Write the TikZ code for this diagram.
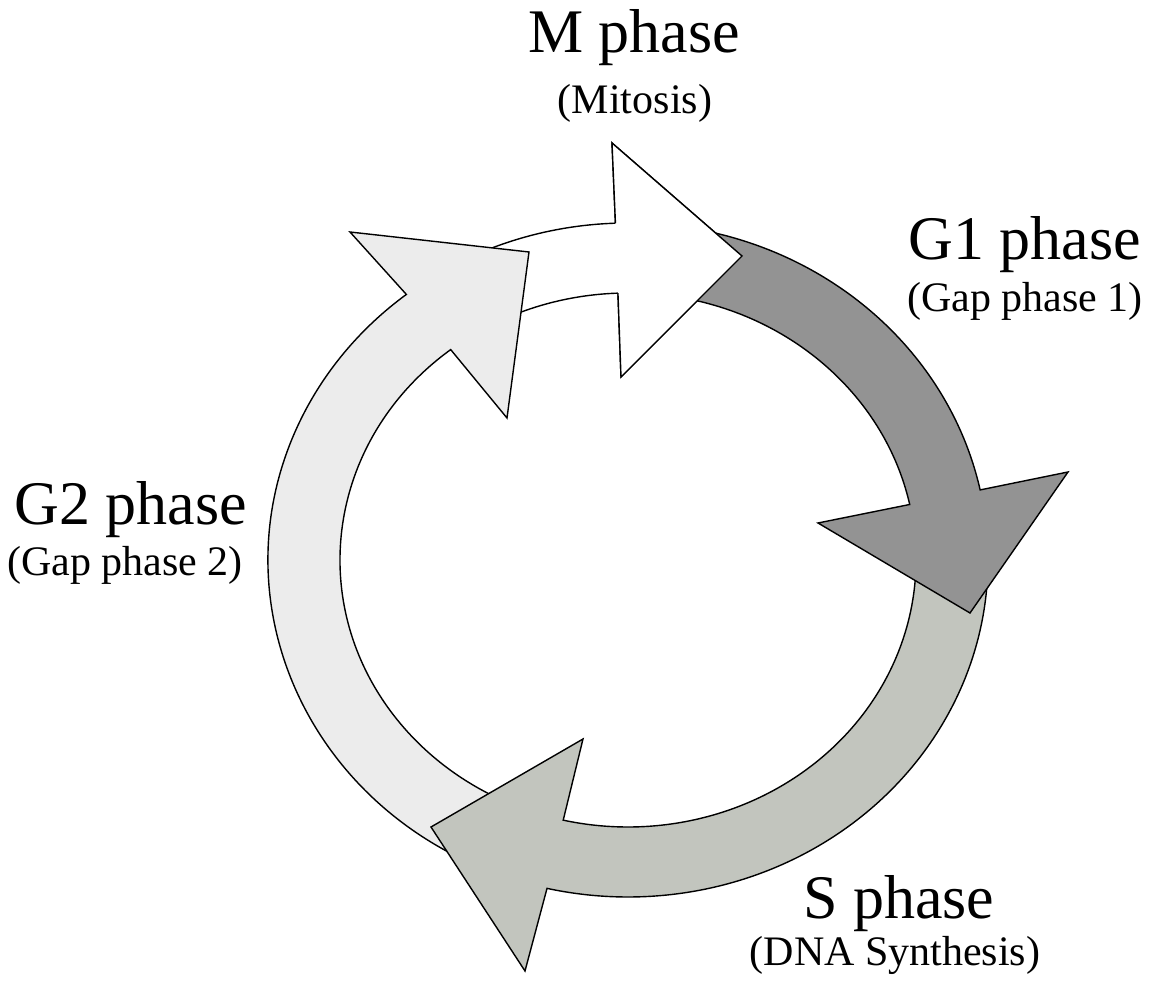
\documentclass[tikz,border=0pt]{standalone}
\usepackage{fontspec}
\setmainfont{Liberation Serif}
\usepackage{xcolor}

\definecolor{gonegray}{RGB}{147,147,147}
\definecolor{sgray}{RGB}{194,197,190}
\definecolor{gtwogray}{RGB}{236,236,236}

\begin{document}
\begin{tikzpicture}[
  x=0.5pt, y=0.5pt,
  phase/.style={draw, line width=0.7pt, line join=miter, miter limit=10},
  mphase/.style={phase, fill=white},
  gonephase/.style={phase, fill=gonegray},
  sphase/.style={phase, fill=sgray},
  gtwophase/.style={phase, fill=gtwogray},
  title/.style={font=\fontsize{31}{31}\selectfont, inner sep=0pt, anchor=base},
  subtitle/.style={font=\fontsize{21}{21}\selectfont, inner sep=0pt, anchor=base},
]
\useasboundingbox (-628,-423) rectangle (522,560);

% M phase
\draw[mphase] (115:360 and 337) arc[start angle=115, end angle=92, x radius=360, y radius=337]
  -- (-16,417) -- (114,304) -- (-7,183) -- (92:288 and 267)
  arc[start angle=92, end angle=115, x radius=288, y radius=267] -- cycle;

% G2 phase
\draw[gtwophase] (246:360 and 337) arc[start angle=246, end angle=128, x radius=360, y radius=337]
  -- (-278,328) -- (-99,308) -- (-121,142) -- (128:288 and 267)
  arc[start angle=128, end angle=246, x radius=288, y radius=267] -- cycle;

% S phase
\draw[sphase] (-2:360 and 337) arc[start angle=-2, end angle=-103, x radius=360, y radius=337]
  -- (-103,-411) -- (-197,-267) -- (-45,-179) -- (-103:288 and 267)
  arc[start angle=-103, end angle=-2, x radius=288, y radius=267] -- cycle;

% G1 phase
\draw[gonephase] (80:360 and 337) arc[start angle=80, end angle=12, x radius=360, y radius=337]
  -- (440,88) -- (342,-53) -- (190,37) -- (12:288 and 267)
  arc[start angle=12, end angle=80, x radius=288, y radius=267] -- cycle;

% head of M phase back on top of the G1 tail
\fill[white] (92:360 and 337) -- (-16,417) -- (114,304) -- (-7,183) -- (92:288 and 267) -- cycle;
\draw[phase] (92:360 and 337) -- (-16,417) -- (114,304) -- (-7,183) -- (92:288 and 267);

% labels
\node[title] (mtitle) at (6,507) {M phase};
\node[subtitle] (msub) at (7,446) {(Mitosis)};
\node[title] (gonetitle) at (397,300) {G1 phase};
\node[subtitle] (gonesub) at (397,248) {(Gap phase 1)};
\node[title] (stitle) at (271,-358) {S phase};
\node[subtitle] (ssub) at (267,-406) {(DNA Synthesis)};
\node[title] (gtwotitle) at (-497,35) {G2 phase};
\node[subtitle] (gtwosub) at (-503,-16) {(Gap phase 2)};
\end{tikzpicture}
\end{document}
